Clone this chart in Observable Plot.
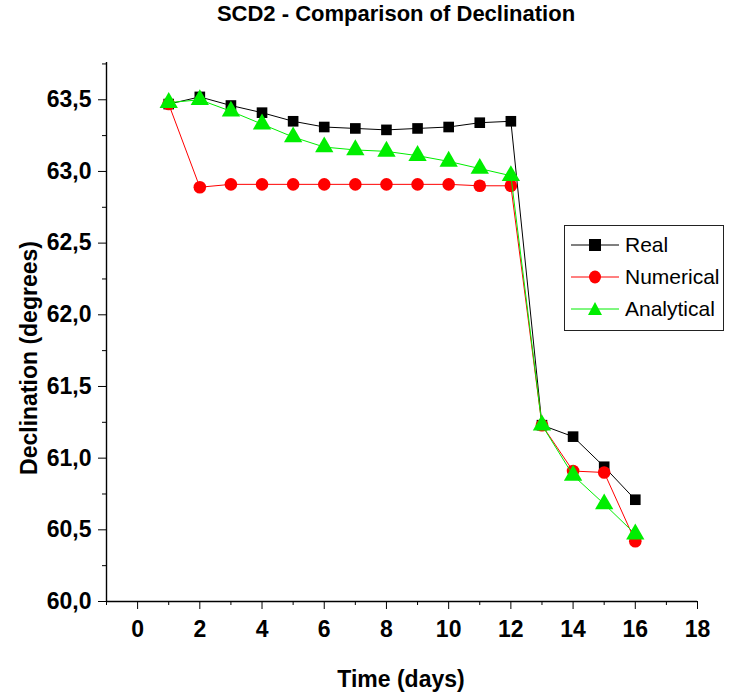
<!DOCTYPE html>
<html>
<head>
<meta charset="utf-8">
<script src="https://cdn.jsdelivr.net/npm/d3@7"></script>
<script src="https://cdn.jsdelivr.net/npm/@observablehq/plot@0.6"></script>
<style>
  body { margin: 0; background: #fff; }
  #wrap { position: relative; width: 729px; height: 698px; font-family: "Liberation Sans", Arial, sans-serif; }
  #legend { position: absolute; left: 564px; top: 225px; width: 158px; height: 101px; border: 1px solid #222; background: #fff; }
  .item { display: flex; align-items: center; height: 32px; font-size: 21px; color: #000; }
  .item svg { margin-left: 6px; margin-right: 6px; }
</style>
</head>
<body>
<div id="wrap"><div id="chart"></div>
<div id="legend"></div></div>
<script>
const days = [1, 2, 3, 4, 5, 6, 7, 8, 9, 10, 11, 12, 13, 14, 15, 16];
const real = [63.47, 63.52, 63.46, 63.41, 63.35, 63.31, 63.30, 63.29, 63.30, 63.31, 63.34, 63.35, 61.23, 61.15, 60.94, 60.71];
const numerical = [63.47, 62.89, 62.91, 62.91, 62.91, 62.91, 62.91, 62.91, 62.91, 62.91, 62.90, 62.90, 61.23, 60.91, 60.90, 60.42];
const analytical = [63.48, 63.50, 63.42, 63.33, 63.24, 63.17, 63.15, 63.14, 63.11, 63.07, 63.02, 62.97, 61.23, 60.88, 60.68, 60.47];
const seriesNames = ["Real", "Numerical", "Analytical"];
const seriesColors = ["#000000", "#ff0000", "#00ee00"];
const seriesSymbols = ["square", "circle", "triangle"];
const xTicks = [0, 2, 4, 6, 8, 10, 12, 14, 16, 18];
const xMinor = [-1, 1, 3, 5, 7, 9, 11, 13, 15, 17];
const yTicks = [60.0, 60.5, 61.0, 61.5, 62.0, 62.5, 63.0, 63.5];
const yMinor = [60.25, 60.75, 61.25, 61.75, 62.25, 62.75, 63.25, 63.75];
const titleText = "SCD2 - Comparison of Declination";
const xTitle = "Time (days)";
const yTitle = "Declination (degrees)";

const allValues = [real, numerical, analytical];
const data = [];
allValues.forEach((vals, si) => vals.forEach((v, i) => data.push({day: days[i], value: v, series: seriesNames[si]})));

const font = '"Liberation Sans", Arial, sans-serif';
const fmt = d => d.toFixed(1).replace(".", ",");

const marks = [
  Plot.axisX({ticks: xTicks, tickSize: 8, tickPadding: 11, fontSize: 23, fontWeight: "bold", label: null, tickFormat: d => String(d)}),
  Plot.axisX({ticks: xMinor, tickSize: 4, tickFormat: () => "", label: null}),
  Plot.axisY({ticks: yTicks, tickSize: 8, tickPadding: 7, fontSize: 23, fontWeight: "bold", label: null, tickFormat: fmt}),
  Plot.axisY({ticks: yMinor, tickSize: 4, tickFormat: () => "", label: null}),
  Plot.ruleX([-1], {stroke: "#000", strokeWidth: 1.4}),
  Plot.ruleY([60], {stroke: "#000", strokeWidth: 1.4})
];
seriesNames.forEach((name, si) => {
  const sub = data.filter(d => d.series === name);
  marks.push(Plot.line(sub, {x: "day", y: "value", stroke: seriesColors[si], strokeWidth: 1}));
  marks.push(Plot.dot(sub, {x: "day", y: "value", symbol: () => seriesSymbols[si], fill: seriesColors[si], stroke: "none", r: si === 0 ? 6 : (si === 1 ? 6.3 : 6.8)}));
});
marks.push(Plot.text([titleText], {frameAnchor: "top", dx: -6, dy: -57, fontSize: 22, fontWeight: "bold", fill: "#000"}));
marks.push(Plot.text([xTitle], {frameAnchor: "bottom", dx: -1, dy: 85, fontSize: 23, fontWeight: "bold", fill: "#000"}));
marks.push(Plot.text([yTitle], {frameAnchor: "left", textAnchor: "middle", dx: -77, dy: 26, rotate: -90, fontSize: 23, fontWeight: "bold", fill: "#000"}));

const chart = Plot.plot({
  width: 729, height: 698,
  marginLeft: 106, marginRight: 32, marginTop: 62, marginBottom: 97,
  x: {domain: [-1, 18]},
  y: {domain: [60, 63.76]},
  style: {fontFamily: font, color: "#000", background: "#fff", overflow: "visible"},
  marks
});
document.getElementById("chart").appendChild(chart);

const legend = document.getElementById("legend");
legend.style.paddingTop = "3px";
seriesNames.forEach((name, si) => {
  const row = document.createElement("div");
  row.className = "item";
  let sym = "";
  if (si === 0) sym = `<rect x="18" y="6" width="12" height="12" fill="${seriesColors[si]}"/>`;
  else if (si === 1) sym = `<ellipse cx="24" cy="12" rx="6" ry="6.5" fill="${seriesColors[si]}"/>`;
  else sym = `<polygon points="24,5 31,18 17,18" fill="${seriesColors[si]}"/>`;
  row.innerHTML = `<svg width="48" height="24"><line x1="0" x2="48" y1="12" y2="12" stroke="${seriesColors[si]}" stroke-width="1"/>${sym}</svg><span>${name}</span>`;
  legend.appendChild(row);
});
</script>
</body>
</html>
